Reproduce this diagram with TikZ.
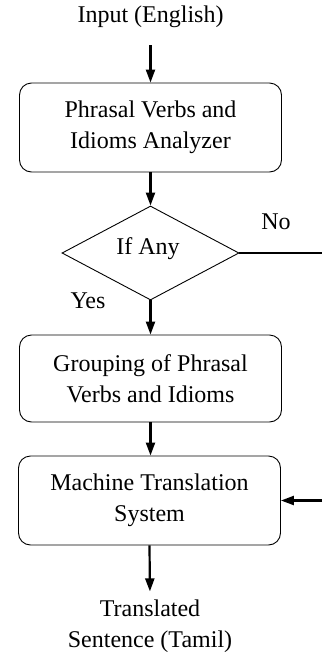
\documentclass[tikz,border=0pt]{standalone}
\usepackage{fontspec}
\setmainfont{Liberation Serif}
\usetikzlibrary{shapes.geometric,arrows.meta}
\begin{document}
\begin{tikzpicture}[x=1pt,y=-1pt,
  txt/.style={align=center,font=\fontsize{24}{31}\selectfont,inner sep=0pt},
  box/.style={txt,draw,rounded corners=12pt,minimum width=262pt,line width=0.9pt},
  dia/.style={txt,draw,diamond,minimum width=177pt,minimum height=94pt,line width=0.9pt},
  arr/.style={-{Triangle[length=13pt,width=9pt]},line width=2.2pt},
  thickline/.style={line width=2.2pt}]
\useasboundingbox (0,0) rectangle (322,654);
\node[txt] (in) at (150.5,17) {Input (English)};
\node[box,minimum height=89pt] (b1) at (150.5,127.5) {Phrasal Verbs and\\Idioms Analyzer};
\node[dia] (d) at (150.5,253) {};
\node[txt] (dt) at (148,249) {If Any};
\node[txt] (no) at (276,222) {No};
\node[txt] (yes) at (88,301) {Yes};
\node[box,minimum height=87pt] (b2) at (150.5,378.5) {Grouping of Phrasal\\Verbs and Idioms};
\node[box,minimum height=89pt] (b3) at (149.5,500.5) {Machine Translation\\System};
\node[txt] (out) at (150,626) {Translated\\Sentence (Tamil)};
\coordinate (noend) at (322,253);
\coordinate (inend) at (322,500.5);
\draw[arr,shorten <=17pt] (in.south) -- (b1.north);
\draw[arr] (b1.south) -- (d.north);
\draw[thickline] (d.east) -- (noend);
\draw[arr] (d.south) -- (b2.north);
\draw[arr] (b2.south) -- (b2.south |- b3.north);
\draw[arr] (inend) -- (b3.east);
\draw[arr,shorten >=8pt] (b3.south) -- (out.north);
\end{tikzpicture}
\end{document}
